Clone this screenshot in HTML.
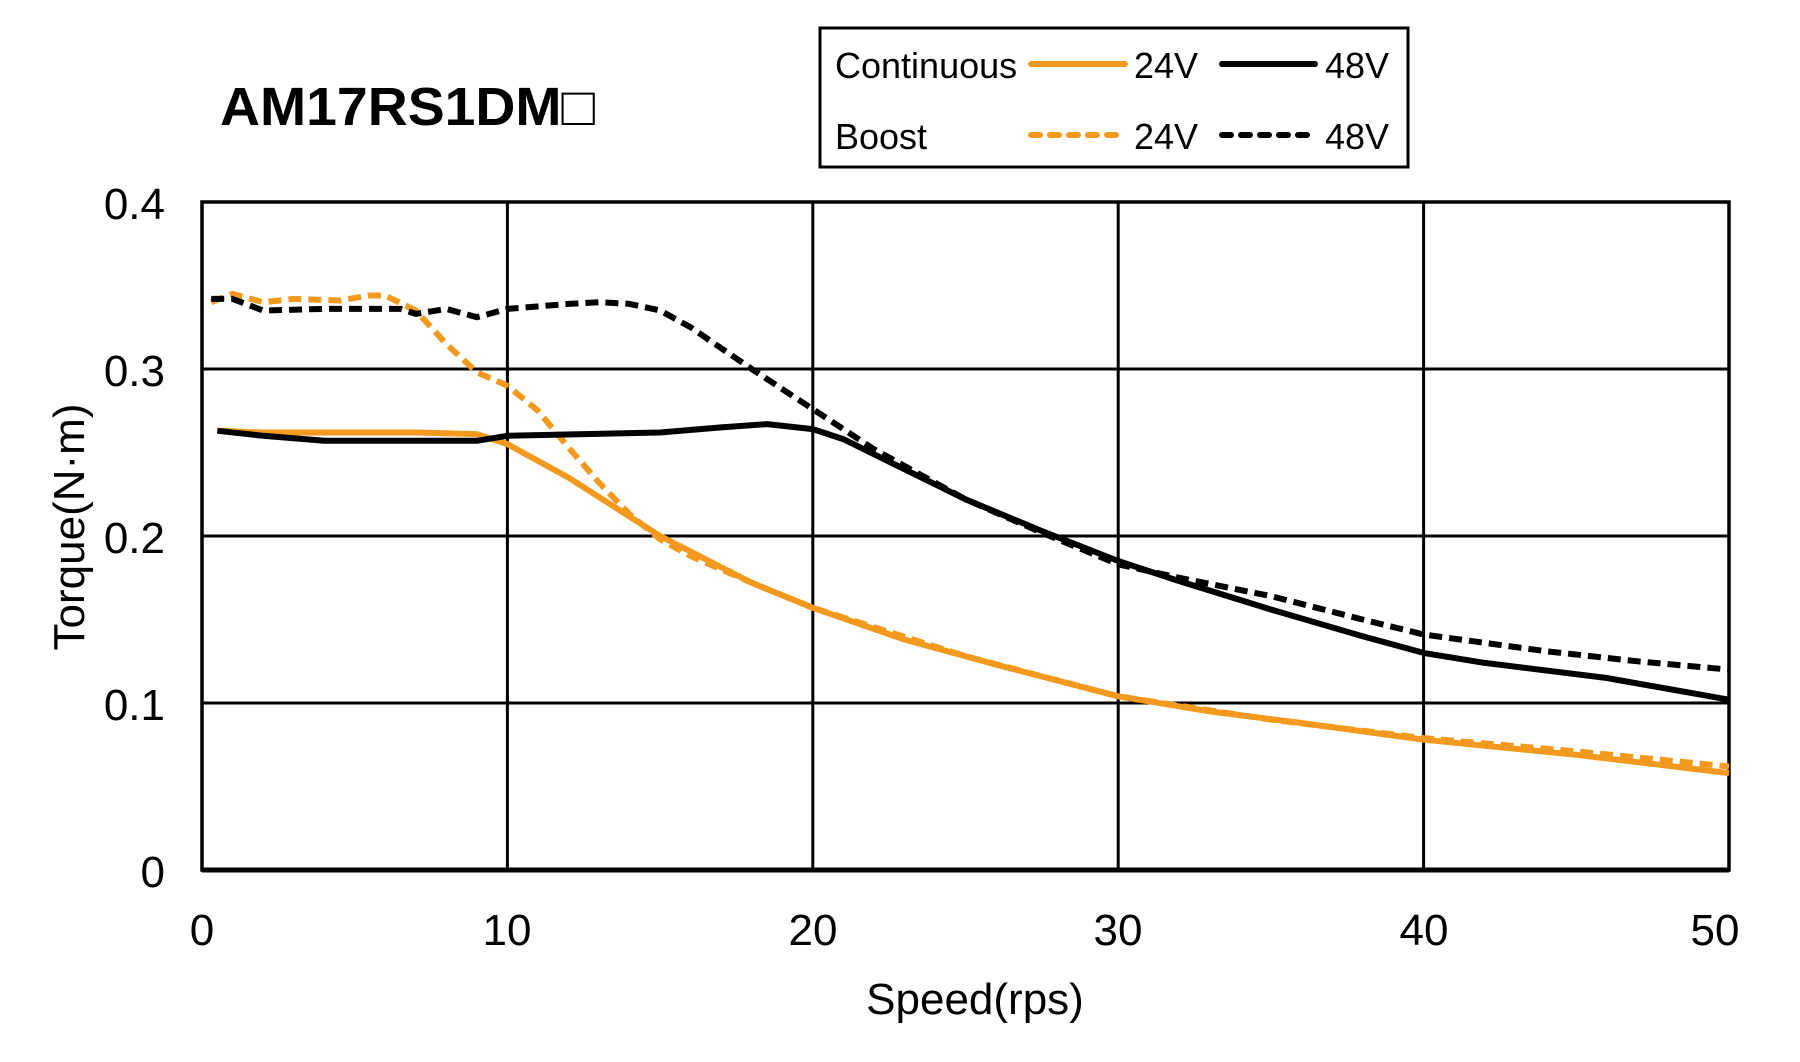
<!DOCTYPE html>
<html><head><meta charset="utf-8"><style>
html,body{margin:0;padding:0;background:#fff;}
svg{display:block;font-family:"Liberation Sans","Noto Sans CJK JP",sans-serif;}
</style></head><body>
<svg width="1800" height="1062" viewBox="0 0 1800 1062" xmlns="http://www.w3.org/2000/svg">
<rect width="1800" height="1062" fill="#fff"/>
<g stroke="#000" stroke-width="3" fill="none">
<line x1="202" y1="369" x2="1729" y2="369"/>
<line x1="202" y1="536" x2="1729" y2="536"/>
<line x1="202" y1="703" x2="1729" y2="703"/>
<line x1="507.4" y1="202" x2="507.4" y2="870"/>
<line x1="812.8" y1="202" x2="812.8" y2="870"/>
<line x1="1118.2" y1="202" x2="1118.2" y2="870"/>
<line x1="1423.6" y1="202" x2="1423.6" y2="870"/>
<rect x="202" y="202" width="1527" height="668" stroke-width="3.5"/>
<line x1="202" y1="870" x2="1729" y2="870" stroke-width="5"/>
</g>
<g font-size="44" fill="#000" text-anchor="end">
<text x="165" y="219">0.4</text><text x="165" y="386">0.3</text><text x="165" y="553">0.2</text><text x="165" y="720">0.1</text><text x="165" y="887">0</text>
</g>
<g font-size="44" fill="#000" text-anchor="middle">
<text x="202" y="945">0</text><text x="507" y="945">10</text><text x="813" y="945">20</text><text x="1118" y="945">30</text><text x="1424" y="945">40</text><text x="1715" y="945">50</text>
<text x="975" y="1014">Speed(rps)</text>
<text transform="translate(84,527) rotate(-90)">Torque(N·m)</text>
</g>
<text x="220" y="125" font-size="54" font-weight="bold" textLength="375" lengthAdjust="spacingAndGlyphs">AM17RS1DM□</text>
<rect x="820" y="28" width="588" height="139" fill="none" stroke="#000" stroke-width="3"/>
<g font-size="36" fill="#000">
<text x="835" y="78">Continuous</text><text x="835" y="149">Boost</text>
<text x="1134" y="78">24V</text><text x="1325" y="78">48V</text>
<text x="1134" y="149">24V</text><text x="1325" y="149">48V</text>
</g>
<g stroke-width="6" stroke-linecap="round">
<line x1="1031" y1="64" x2="1125" y2="64" stroke="#f39a1e"/>
<line x1="1222" y1="64" x2="1315" y2="64" stroke="#000"/>
<line x1="1031" y1="135" x2="1125" y2="135" stroke="#f39a1e" stroke-dasharray="9 10"/>
<line x1="1222" y1="135" x2="1315" y2="135" stroke="#000" stroke-dasharray="9 10"/>
</g>
<g id="curves" fill="none" stroke-width="6" stroke-linejoin="round"></g>
<script>
const X=v=>202+30.54*v, Y=t=>870-1670*t;
const S=[
["#f39a1e","",[[0.5,0.263],[2,0.262],[7,0.262],[9,0.261],[10,0.255],[12,0.235],[15,0.2],[18,0.172],[20,0.157],[23,0.138],[26,0.123],[30,0.104],[33,0.095],[36,0.088],[40,0.078],[45,0.069],[50,0.058]]],
["#f39a1e","13 7",[[0.3,0.34],[1,0.345],[2,0.34],[3,0.342],[4.5,0.341],[5.5,0.344],[6,0.344],[7,0.335],[8,0.315],[9,0.298],[10,0.29],[11,0.275],[12,0.253],[13,0.232],[14,0.213],[15,0.198],[16,0.188],[18,0.172],[20,0.157],[25,0.128],[30,0.104],[35,0.09],[40,0.079],[45,0.071],[50,0.062]]],
["#000","13 7",[[0.3,0.342],[1,0.342],[2,0.335],[4,0.336],[6.5,0.336],[7,0.333],[8,0.336],[9,0.331],[10,0.336],[12,0.339],[13,0.34],[14,0.339],[15,0.335],[16,0.325],[18,0.3],[20,0.276],[22,0.252],[25,0.222],[27.5,0.202],[30,0.183],[32,0.175],[35,0.164],[38,0.15],[40,0.141],[44,0.131],[47,0.125],[50,0.12]]],
["#000","",[[0.5,0.263],[2,0.26],[4,0.257],[9,0.257],[10,0.26],[15,0.262],[17,0.265],[18.5,0.267],[20,0.264],[21,0.258],[23,0.24],[25,0.222],[27.5,0.203],[30,0.185],[32,0.173],[35,0.156],[38,0.14],[40,0.13],[42,0.124],[46,0.115],[50,0.102]]]
];
const g=document.getElementById('curves');
for(const [c,d,p] of S){const e=document.createElementNS('http://www.w3.org/2000/svg','polyline');
e.setAttribute('points',p.map(q=>X(q[0]).toFixed(1)+','+Y(q[1]).toFixed(1)).join(' '));
e.setAttribute('stroke',c);if(d)e.setAttribute('stroke-dasharray',d);g.appendChild(e);}
</script>
</svg>
</body></html>
